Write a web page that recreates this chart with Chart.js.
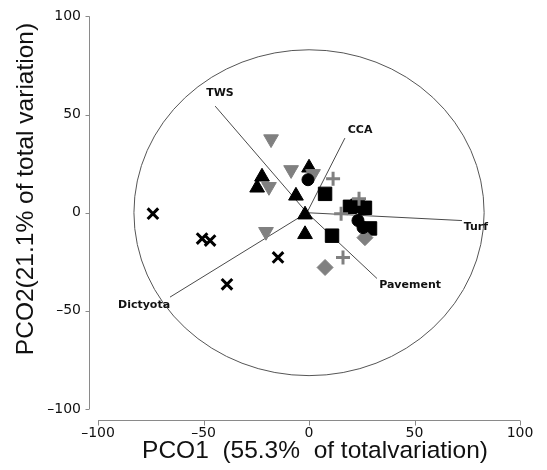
<!DOCTYPE html>
<html><head><meta charset="utf-8">
<script src="https://cdn.jsdelivr.net/npm/chart.js@4/dist/chart.umd.min.js"></script>
<style>html,body{margin:0;padding:0;background:#fff}</style>
</head><body>
<canvas id="c" width="547" height="470" style="display:block;width:547px;height:470px"></canvas>
<script>
// ---- tick labels & titles ----
const X_TICKS = [-100, -50, 0, 50, 100];
const Y_TICKS = [-100, -50, 0, 50, 100];
const X_TITLE = 'PCO1  (55.3%  of totalvariation)';
const Y_TITLE = 'PCO2(21.1% of total variation)';

// ---- sample scores (PCO1, PCO2) per group ----
const crossX = [-74, -50.7, -46.9, -14.7, -38.9];
const crossY = [-0.5, -13.2, -14.2, -22.8, -36.5];

const grayTriX = [-18, -8.5, 1.9, -19, -20.4];
const grayTriY = [37.5, 21.8, 19.8, 13.2, -9.7];

const blackTriX = [0, -22.3, -24.6, -6.2, -1.9, -1.9];
const blackTriY = [22.9, 18.3, 12.7, 8.6, -1, -11];

const circleX = [-0.5, 23.2, 25.6];
const circleY = [16.8, -4, -7.6];

const squareX = [7.6, 19.4, 23, 26.5, 28.9, 10.9];
const squareY = [9.6, 3, 3.5, 2.5, -8, -11.7];

const plusX = [11.4, 23.7, 15.2, 16.1];
const plusY = [17.3, 7.1, -0.5, -22.8];

const diamondX = [26.5, 7.6];
const diamondY = [-12.7, -27.9];

// ---- correlation vectors ----
const VEC_NAMES = ['TWS', 'CCA', 'Turf', 'Pavement', 'Dictyota'];
const VEC_X = [-44.5, 17, 72.5, 32.2, -65.9];
const VEC_Y = [54.3, 38, -4, -33.5, -43];
const VEC_LABEL_X = [-42.2, 24.2, 79.1, 47.9, -78.2];
const VEC_LABEL_Y = [60.9, 42.1, -7.6, -37.1, -47.2];
const VEC_ORIGIN = [-1, 0];
const CIRCLE_R = 83;

const pts = (xs, ys) => xs.map((x, i) => ({x, y: ys[i]}));

const datasets = [];
function marker(xs, ys, style, color, radius, opts) {
  datasets.push(Object.assign({
    data: pts(xs, ys), pointStyle: style, pointRadius: radius,
    backgroundColor: color, borderColor: color, borderWidth: 1, order: 0
  }, opts || {}));
}
marker(circleX, circleY, 'circle', '#000', 6);
marker(plusX, plusY, 'cross', '#808080', 7, {borderWidth: 3});
marker(grayTriX, grayTriY, 'triangle', '#808080', 8.5, {rotation: 180});
marker(diamondX, diamondY, 'rectRot', '#808080', 8);
marker(squareX, squareY, 'rect', '#000', 9.5);
marker(blackTriX, blackTriY, 'triangle', '#000', 8.5);
marker(crossX, crossY, 'crossRot', '#000', 7.5, {borderWidth: 3});

VEC_NAMES.forEach((n, i) => {
  datasets.push({
    data: [{x: VEC_ORIGIN[0], y: VEC_ORIGIN[1]}, {x: VEC_X[i], y: VEC_Y[i]}],
    showLine: true, borderColor: '#4a4a4a', borderWidth: 1, pointRadius: 0, order: 10
  });
});

const fmtTick = v => String(v).replace('-', '\u2013');

const decor = {
  id: 'decor',
  beforeDatasetsDraw(chart) {
    const {ctx, scales: {x, y}} = chart;
    ctx.save();
    const cx = x.getPixelForValue(0), cy = y.getPixelForValue(0);
    const rx = Math.abs(x.getPixelForValue(CIRCLE_R) - cx);
    const ry = Math.abs(y.getPixelForValue(CIRCLE_R) - cy);
    ctx.strokeStyle = '#555'; ctx.lineWidth = 1;
    ctx.beginPath(); ctx.ellipse(cx, cy, rx, ry, 0, 0, Math.PI * 2); ctx.stroke();
    ctx.restore();
  },
  afterDatasetsDraw(chart) {
    const {ctx, scales: {x, y}} = chart;
    ctx.save();
    ctx.fillStyle = '#111';
    ctx.font = 'bold 11px "DejaVu Sans"';
    ctx.textAlign = 'center'; ctx.textBaseline = 'middle';
    VEC_NAMES.forEach((n, i) => {
      ctx.fillText(n, x.getPixelForValue(VEC_LABEL_X[i]), y.getPixelForValue(VEC_LABEL_Y[i]));
    });
    ctx.restore();
  },
  afterDraw(chart) {
    const {ctx, chartArea: ca, scales: {x, y}} = chart;
    ctx.save();
    ctx.strokeStyle = '#8a8a8a'; ctx.lineWidth = 1;
    // y axis
    const ax = Math.round(ca.left) + 0.5;
    ctx.beginPath();
    ctx.moveTo(ax, y.getPixelForValue(Y_TICKS[Y_TICKS.length - 1]));
    ctx.lineTo(ax, y.getPixelForValue(Y_TICKS[0]));
    Y_TICKS.forEach(v => { const p = Math.round(y.getPixelForValue(v)) + 0.5; ctx.moveTo(ax - 4, p); ctx.lineTo(ax, p); });
    ctx.stroke();
    // x axis
    const ay = Math.round(ca.bottom) + 0.5;
    ctx.beginPath();
    ctx.moveTo(x.getPixelForValue(X_TICKS[0]), ay);
    ctx.lineTo(x.getPixelForValue(X_TICKS[X_TICKS.length - 1]), ay);
    X_TICKS.forEach(v => { const p = Math.round(x.getPixelForValue(v)) + 0.5; ctx.moveTo(p, ay); ctx.lineTo(p, ay + 5); });
    ctx.stroke();
    // titles
    ctx.fillStyle = '#111';
    ctx.textAlign = 'center'; ctx.textBaseline = 'alphabetic';
    const fitFont = (t, w) => {
      ctx.font = '24px "Liberation Sans"';
      const m = ctx.measureText(t).width;
      return 24 * w / m;
    };
    ctx.font = fitFont(X_TITLE, 346).toFixed(1) + 'px "Liberation Sans"';
    ctx.fillText(X_TITLE, 315, 458);
    const fy = fitFont(Y_TITLE, 332);
    ctx.font = fy.toFixed(1) + 'px "Liberation Sans"';
    ctx.translate(33, 189); ctx.rotate(-Math.PI / 2);
    ctx.fillText(Y_TITLE, 0, 0);
    ctx.restore();
  }
};

new Chart(document.getElementById('c'), {
  type: 'scatter',
  data: {datasets},
  options: {
    responsive: false, animation: false,
    layout: {padding: {top: 15, right: 27, left: 0, bottom: 0}},
    plugins: {legend: {display: false}, tooltip: {enabled: false}},
    scales: {
      x: {
        type: 'linear', min: -104.3, max: 100,
        afterBuildTicks: s => { s.ticks = X_TICKS.map(v => ({value: v})); },
        afterFit: s => { s.height = 50; },
        grid: {display: false, drawTicks: false}, border: {display: false},
        ticks: {font: {family: 'DejaVu Sans', size: 14}, color: '#111', padding: 5, maxRotation: 0, autoSkip: false, callback: fmtTick}
      },
      y: {
        type: 'linear', min: -105.6, max: 100,
        afterBuildTicks: s => { s.ticks = Y_TICKS.map(v => ({value: v})); },
        afterFit: s => { s.width = 89; },
        grid: {display: false, drawTicks: false}, border: {display: false},
        ticks: {font: {family: 'DejaVu Sans', size: 14}, color: '#111', padding: 8, autoSkip: false, callback: fmtTick}
      }
    }
  },
  plugins: [decor]
});
</script>
</body></html>
